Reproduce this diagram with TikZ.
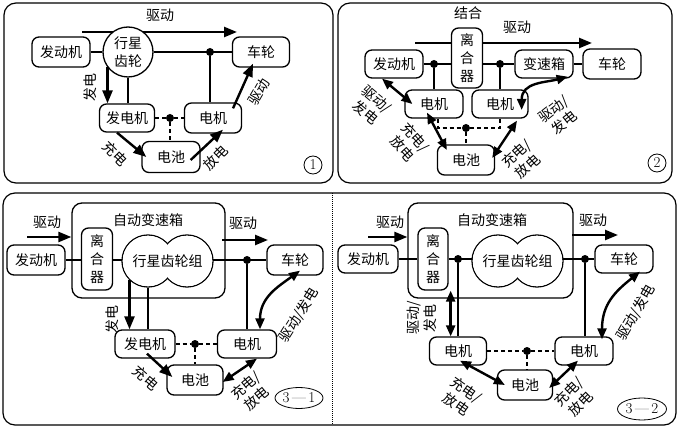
\documentclass[tikz,border=0pt]{standalone}
\usepackage{fontspec}
\newfontfamily\cjk{Noto Sans CJK SC}
\usetikzlibrary{arrows.meta,shapes.geometric}

\tikzset{
  comp/.style={draw, line width=1.3pt, rounded corners=7pt, fill=white, inner sep=0pt,
    align=center, font=\cjk\fontsize{14}{18}\selectfont},
  gear/.style={draw, circle, line width=1.3pt, fill=white, inner sep=0pt,
    align=center, font=\cjk\fontsize{14}{18}\selectfont},
  shaft/.style={line width=1.9pt},
  power/.style={line width=2.4pt, -{Triangle[length=13pt,width=10pt]}},
  duplex/.style={line width=2.4pt, {Triangle[length=11pt,width=9pt]}-{Triangle[length=11pt,width=9pt]}},
  wire/.style={line width=1.9pt, dash pattern=on 4pt off 3pt},
  joint/.style={circle, fill, inner sep=0pt, minimum size=8pt},
  tag/.style={font=\cjk\fontsize{14}{17}\selectfont, align=center, inner sep=0pt},
  panel/.style={draw, line width=1.2pt, rounded corners=12pt},
  num/.style={draw, circle, line width=0.8pt, inner sep=0pt, minimum size=18pt, font=\fontsize{15}{16}\selectfont},
  case/.style={draw, ellipse, line width=0.8pt, inner sep=0pt, font=\fontsize{15}{16}\selectfont}
}

\begin{document}
\begin{tikzpicture}[x=1pt,y=-1pt]
\useasboundingbox (0,0) rectangle (680,430);
\draw[panel] (4,3) rectangle (333,183);
\draw[panel] (338,3) rectangle (672,183);
\draw[panel] (3,193) rectangle (676,425);
\draw[line width=1pt, densely dotted] (332,193) -- (332,425);

% 1
\coordinate (p1a) at (82,32);
\coordinate (p1b) at (237,32);
\draw[power] (p1a) -- (p1b);
\node[tag] (p1t1) at (160,15) {驱动};
\node[comp, minimum width=58pt, minimum height=30pt] (p1eng) at (61,52) {发动机};
\node[gear, minimum size=50pt] (p1gear) at (128,52) {行星\\齿轮};
\node[comp, minimum width=57pt, minimum height=30pt] (p1whl) at (261,52) {车轮};
\node[comp, minimum width=55pt, minimum height=28pt] (p1gen) at (127,118) {发电机};
\node[comp, minimum width=57pt, minimum height=30pt] (p1mot) at (213,118) {电机};
\node[comp, minimum width=58pt, minimum height=31pt] (p1bat) at (171,157) {电池};
\draw[shaft] (p1eng) -- (p1gear) (p1gear) -- (p1whl);
\node[joint] (p1j) at (210,52) {};
\draw[shaft] (p1j) -- (p1j |- p1mot.north);
\draw[shaft] (p1gear.south) -- (p1gear.south |- p1gen.north);
\draw[power] (p1gear.-143) -- (p1gear.-143 |- p1gen.north);
\node[joint] (p1e) at (170,118) {};
\draw[wire] (p1gen) -- (p1e) -- (p1mot);
\draw[wire] (p1e) -- (p1e |- p1bat.north);
\draw[power] ([xshift=-10pt]p1gen.south) -- ([xshift=5pt]p1bat.west);
\draw[power] ([xshift=-10pt,yshift=-3pt]p1bat.east) -- ([xshift=10pt,yshift=4pt]p1mot.south);
\draw[power] ([xshift=20pt,yshift=-6pt]p1mot.north) -- ([xshift=-8pt,yshift=4pt]p1whl.south);
\node[tag, rotate=90] (p1t2) at (90,88) {发电};
\node[tag, rotate=-45] (p1t3) at (115,154) {充电};
\node[tag, rotate=45] (p1t4) at (216,158) {放电};
\node[tag, rotate=60] (p1t5) at (259,92) {驱动};
\node[num] (p1n) at (313,165) {1};

% 2
\coordinate (p2a) at (415,43);
\coordinate (p2b) at (592,43);
\draw[power] (p2a) -- (p2b);
\node[tag] (p2t0) at (468,13) {结合};
\node[tag] (p2t1) at (517,27) {驱动};
\node[comp, minimum width=58pt, minimum height=28pt] (p2eng) at (394,64) {发动机};
\node[comp, minimum width=31pt, minimum height=60pt] (p2clu) at (467,58) {离\\合\\器};
\node[comp, minimum width=58pt, minimum height=28pt] (p2box) at (544,64) {变速箱};
\node[comp, minimum width=58pt, minimum height=30pt] (p2whl) at (612,64) {车轮};
\node[comp, minimum width=58pt, minimum height=28pt] (p2motl) at (434,104) {电机};
\node[comp, minimum width=56pt, minimum height=28pt] (p2motr) at (500,104) {电机};
\node[comp, minimum width=57pt, minimum height=30pt] (p2bat) at (466,160) {电池};
\draw[shaft] (p2eng.east) -- (p2eng.east -| p2clu.west) (p2eng.east -| p2clu.east) -- (p2box.west)
  (p2box.east) -- (p2whl.west);
\node[joint] (p2j1) at (434,64) {};
\node[joint] (p2j2) at (500,64) {};
\draw[shaft] (p2j1) -- (p2j1 |- p2motl.north) (p2j2) -- (p2j2 |- p2motr.north);
\node[joint] (p2e) at (466,128) {};
\draw[wire] ([xshift=4pt]p2motl.south) |- (p2e) -| (p2motr.south);
\draw[wire] (p2e) -- (p2e |- p2bat.north);
\draw[duplex] ([xshift=-12pt]p2eng.south) -- ([xshift=8pt]p2motl.west);
\draw[duplex] ([xshift=-7pt,yshift=6pt]p2motl.south) -- ([xshift=10pt,yshift=10pt]p2bat.west);
\draw[duplex] ([xshift=-3pt,yshift=2pt]p2bat.east) -- ([xshift=17pt,yshift=-2pt]p2motr.south);
\draw[duplex] ([xshift=-7pt,yshift=-6pt]p2motr.east) .. controls +(0,-28) and +(-22,6) .. ([xshift=-6pt,yshift=2pt]p2box.south east);
\node[tag, rotate=-40] (p2t2) at (371,106) {驱动/\\发电};
\node[tag, rotate=-48] (p2t3) at (409,143) {充电/\\放电};
\node[tag, rotate=42] (p2t4) at (522,160) {充电/\\放电};
\node[tag, rotate=38] (p2t5) at (559,116) {驱动/\\发电};
\node[num] (p2n) at (657,163) {2};

% 3-1
\node[comp, rounded corners=10pt, minimum width=153pt, minimum height=95pt] (p31tm) at (148.5,250.5) {};
\node[tag] (p31t0) at (148,220) {自动变速箱};
\node[comp, minimum width=31pt, minimum height=62pt] (p31clu) at (97,259) {离\\合\\器};
\node[gear, minimum size=52pt] (p31g1) at (148,261) {};
\node[gear, minimum size=52pt] (p31g2) at (187,261) {};
\fill[white] (p31g1.center) circle[radius=25.3pt] (p31g2.center) circle[radius=25.3pt];
\node[tag, minimum width=91pt, minimum height=52pt] (p31pg) at (167.5,261) {行星齿轮组};
\node[comp, minimum width=58pt, minimum height=30pt] (p31eng) at (36,260) {发动机};
\node[comp, minimum width=56pt, minimum height=30pt] (p31whl) at (295,260) {车轮};
\node[comp, minimum width=60pt, minimum height=28pt] (p31gen) at (145,344) {发电机};
\node[comp, minimum width=59pt, minimum height=28pt] (p31mot) at (247,344) {电机};
\node[comp, minimum width=56pt, minimum height=30pt] (p31bat) at (195,380) {电池};
\draw[shaft] (p31eng.east) -- (p31eng.east -| p31clu.west) (p31eng.east -| p31clu.east) -- (p31pg.west |- p31eng.east)
  (p31pg.east |- p31eng.east) -- (p31whl.west);
\node[joint] (p31j) at (247,260) {};
\draw[shaft] (p31j) -- (p31j |- p31mot.north);
\draw[shaft] (p31g1.south) -- (p31g1.south |- p31gen.north);
\draw[power] (p31g1.-134) -- (p31g1.-134 |- p31gen.north);
\coordinate (p31a) at (27,237);
\draw[power] (p31a) -- (p31a -| p31tm.west);
\coordinate (p31c) at (222,240);
\coordinate (p31d) at (268,240);
\draw[power] (p31c) -- (p31d);
\node[tag] (p31t1) at (47,222) {驱动};
\node[tag] (p31t2) at (243,223) {驱动};
\node[joint] (p31e) at (195,344) {};
\draw[wire] (p31gen) -- (p31e) -- (p31mot);
\draw[wire] (p31e) -- (p31e |- p31bat.north);
\draw[power] ([xshift=2pt,yshift=5pt]p31gen.south) -- ([xshift=6pt,yshift=3pt]p31bat.west);
\draw[duplex] ([xshift=-1pt,yshift=-2pt]p31bat.east) -- ([xshift=10pt]p31mot.south);
\draw[duplex] ([xshift=13pt]p31mot.north) .. controls +(0,-32) and +(-22,16) .. ([xshift=5pt,yshift=5pt]p31whl.south);
\node[tag, rotate=90] (p31t3) at (112,320) {发电};
\node[tag, rotate=-41] (p31t4) at (146,378) {充电};
\node[tag, rotate=40] (p31t5) at (251,392) {充电/\\放电};
\node[tag, rotate=58] (p31t6) at (299,315) {驱动/发电};
\node[case, minimum width=48pt, minimum height=21pt] (p31n) at (299,398) {3\,—\,1};

% 3-2
\node[comp, rounded corners=10pt, minimum width=165pt, minimum height=95pt] (p32tm) at (490.5,250.5) {};
\node[tag] (p32t0) at (492,220) {自动变速箱};
\node[comp, minimum width=30pt, minimum height=62pt] (p32clu) at (433,259) {离\\合\\器};
\node[gear, minimum size=52pt] (p32g1) at (498,261) {};
\node[gear, minimum size=52pt] (p32g2) at (537,261) {};
\fill[white] (p32g1.center) circle[radius=25.3pt] (p32g2.center) circle[radius=25.3pt];
\node[tag, minimum width=91pt, minimum height=52pt] (p32pg) at (517.5,261) {行星齿轮组};
\node[comp, minimum width=60pt, minimum height=28pt] (p32eng) at (368,259) {发动机};
\node[comp, minimum width=58pt, minimum height=28pt] (p32whl) at (624,259) {车轮};
\node[comp, minimum width=57pt, minimum height=28pt] (p32motl) at (458,351) {电机};
\node[comp, minimum width=58pt, minimum height=28pt] (p32motr) at (584,351) {电机};
\node[comp, minimum width=55pt, minimum height=30pt] (p32bat) at (525,385) {电池};
\draw[shaft] (p32eng.east) -- (p32eng.east -| p32clu.west) (p32eng.east -| p32clu.east) -- (p32pg.west |- p32eng.east)
  (p32pg.east |- p32eng.east) -- (p32whl.west);
\node[joint] (p32j1) at (458,259) {};
\node[joint] (p32j2) at (585,259) {};
\draw[shaft] (p32j1) -- (p32j1 |- p32motl.north) (p32j2) -- (p32j2 |- p32motr.north);
\coordinate (p32a) at (368,237);
\draw[power] (p32a) -- (p32a -| p32tm.west);
\coordinate (p32c) at (572,235);
\coordinate (p32d) at (618,235);
\draw[power] (p32c) -- (p32d);
\node[tag] (p32t1) at (390,222) {驱动};
\node[tag] (p32t2) at (593,220) {驱动};
\draw[duplex] ([xshift=2pt]p32clu.south east) -- ([xshift=2pt]p32clu.south east |- p32motl.north);
\node[joint] (p32e) at (527,351) {};
\draw[wire] (p32motl) -- (p32e) -- (p32motr);
\draw[wire] (p32e) -- (p32e |- p32bat.north);
\draw[duplex] ([xshift=2pt,yshift=5pt]p32motl.south) -- ([xshift=8pt]p32bat.west);
\draw[duplex] ([xshift=-4pt,yshift=-3pt]p32bat.east) -- ([xshift=-6pt,yshift=5pt]p32motr.south);
\draw[duplex] ([xshift=18pt,yshift=-3pt]p32motr.north) .. controls +(0,-35) and +(-25,20) .. ([xshift=16pt,yshift=2pt]p32whl.south);
\node[tag, rotate=90] (p32t3) at (422,318) {驱动/\\发电};
\node[tag, rotate=-35] (p32t4) at (461,397) {充电/\\放电};
\node[tag, rotate=45] (p32t5) at (575,398) {充电/\\放电};
\node[tag, rotate=60] (p32t6) at (636,313) {驱动/发电};
\node[case, minimum width=49pt, minimum height=22pt] (p32n) at (642,409) {3\,—\,2};
\end{tikzpicture}
\end{document}
